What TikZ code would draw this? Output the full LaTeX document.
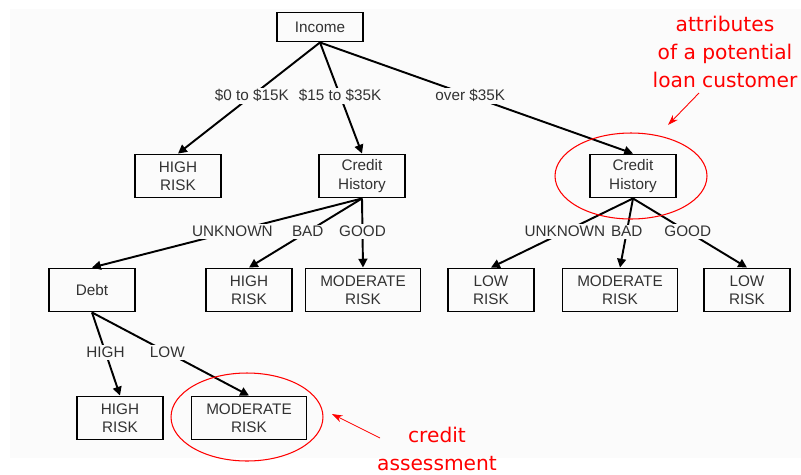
\documentclass[tikz,border=0pt]{standalone}
\usepackage{fontspec}
\setmainfont{Liberation Sans}
\newfontfamily\notefont{DejaVu Sans}
\usetikzlibrary{arrows.meta}
\definecolor{paper}{RGB}{251,251,251}
\definecolor{ink}{RGB}{50,50,50}

\begin{document}
\begin{tikzpicture}[x=0.02cm,y=-0.02cm,
  box/.style={draw=black,line width=1.1pt,text=ink,align=center,minimum width=1.72cm,minimum height=0.86cm,inner sep=1pt,font=\fontsize{8.7}{10.4}\selectfont},
  wide/.style={box,minimum width=2.3cm},
  edge/.style={line width=1.1pt,-{Triangle[length=5pt,width=5pt]}},
  cond/.style={fill=paper,text=ink,inner sep=1pt,pos=.48,font=\fontsize{8.7}{10.4}\selectfont},
  note/.style={text=red,align=center,font=\notefont\fontsize{11.5}{15.9}\selectfont},
  pointer/.style={red,line width=.5pt,-{Stealth[length=6pt,width=4pt]}}]
\useasboundingbox (0,0) rectangle (801,474);
\fill[paper] (10,9) rectangle (801,458);
\node[box,minimum height=0.58cm] (income) at (320,27) {Income};
\node[box] (high1) at (178,176) {HIGH\\RISK};
\node[box] (credit1) at (362,176) {Credit\\History};
\node[box] (credit2) at (633,176) {Credit\\History};
\node[box] (debt) at (92,290) {Debt};
\node[box] (high2) at (249,290) {HIGH\\RISK};
\node[wide] (mod1) at (363,290) {MODERATE\\RISK};
\node[box] (low1) at (491,290) {LOW\\RISK};
\node[wide] (mod2) at (620,290) {MODERATE\\RISK};
\node[box] (low2) at (747,290) {LOW\\RISK};
\node[box] (high3) at (120,418) {HIGH\\RISK};
\node[wide] (mod3) at (249,418) {MODERATE\\RISK};
\draw[edge] (income.south) -- node[cond]{\$0 to \$15K} (high1.north);
\draw[edge] (income.south) -- node[cond]{\$15 to \$35K} (credit1.north);
\draw[edge] (income.south) -- node[cond]{over \$35K} (credit2.north);
\draw[edge] (credit1.south) -- node[cond]{UNKNOWN} (debt.north);
\draw[edge] (credit1.south) -- node[cond]{BAD} (high2.north);
\draw[edge] (credit1.south) -- node[cond]{GOOD} (mod1.north);
\draw[edge] (credit2.south) -- node[cond]{UNKNOWN} (low1.north);
\draw[edge] (credit2.south) -- node[cond]{BAD} (mod2.north);
\draw[edge] (credit2.south) -- node[cond]{GOOD} (low2.north);
\draw[edge] (debt.south) -- node[cond]{HIGH} (high3.north);
\draw[edge] (debt.south) -- node[cond]{LOW} (mod3.north);
\draw[red,line width=.6pt] (631,176) ellipse [x radius=1.52cm,y radius=0.86cm];
\draw[red,line width=.6pt] (247,417) ellipse [x radius=1.52cm,y radius=0.88cm];
\node[note] (attr) at (725,52) {attributes\\of a potential\\loan customer};
\node[note] (assess) at (437,449) {credit\\assessment};
\coordinate (attrtip) at (668,125);
\coordinate (assesstip) at (332,414);
\draw[pointer] (699,93) -- (attrtip);
\draw[pointer] (380,438) -- (assesstip);
\end{tikzpicture}
\end{document}
